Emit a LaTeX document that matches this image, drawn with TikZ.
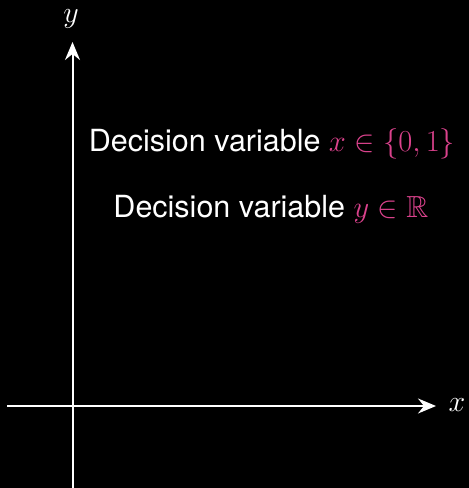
\RequirePackage{fix-cm}
\documentclass[tikz,border=0pt]{standalone}
\usepackage{amssymb}
\DeclareFontFamily{U}{msb}{}
\DeclareFontShape{U}{msb}{m}{n}{<-> msbm10}{}
\usepackage[no-math]{fontspec}
\setmainfont{TeX Gyre Heros}
\usetikzlibrary{arrows.meta}
\definecolor{pinkm}{RGB}{218,66,140}
\begin{document}
\begin{tikzpicture}[x=1pt,y=1pt,
  axis/.style={draw=white,line width=2pt,-{Stealth[length=18pt,width=15pt,inset=6pt]}},
  lbl/.style={text=white,inner sep=0pt,font=\fontsize{30}{36}\selectfont},
  txt/.style={text=white,font=\fontsize{30.5}{37}\selectfont,inner sep=0pt,anchor=base}]
\fill[black] (0,0) rectangle (469,488);
\useasboundingbox (0,0) rectangle (469,488);
\coordinate (xs) at (7,82);
\coordinate (xe) at (436,82);
\coordinate (ys) at (72.5,0);
\coordinate (ye) at (72.5,446);
\draw[axis] (xs) -- (xe);
\draw[axis] (ys) -- (ye);
\node[lbl] (xl) at (457,83) {$x$};
\node[lbl] (yl) at (71,469) {$y$};
\node[txt] (t1) at (272,336) {Decision variable \textcolor{pinkm}{$x\in\{0,1\}$}};
\node[txt] (t2) at (271,270) {Decision variable \textcolor{pinkm}{$y\in\mathbb{R}$}};
\end{tikzpicture}
\end{document}
